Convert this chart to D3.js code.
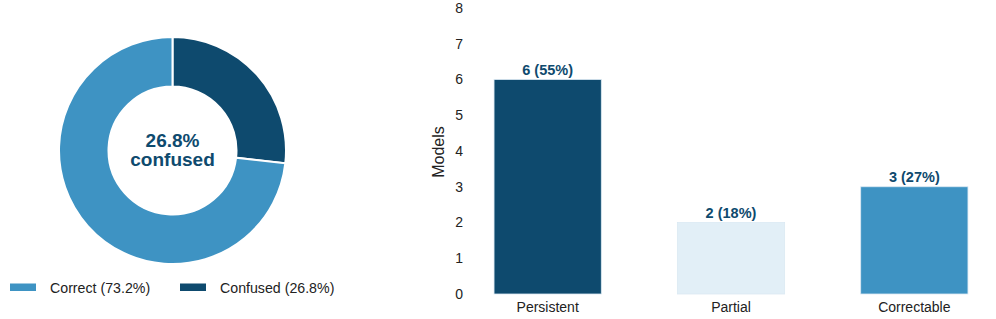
<!DOCTYPE html>
<html><head><meta charset="utf-8">
<script src="https://cdn.jsdelivr.net/npm/d3@7"></script>
<style>body{margin:0;background:#fff}svg{display:block;font-family:"Liberation Sans",Arial,sans-serif}</style>
</head><body>
<svg id="c" width="996" height="319"></svg>
<script>
const pieLabels = ["Confused", "Correct"];
const pieValues = [26.8, 73.2];
const pieColors = ["#0e4a6e", "#3e93c3"];
const legendLabels = ["Correct (73.2%)", "Confused (26.8%)"];
const legendColors = ["#3e93c3", "#0e4a6e"];
const centerText = ["26.8%", "confused"];

const barCategories = ["Persistent", "Partial", "Correctable"];
const barValues = [6, 2, 3];
const barLabels = ["6 (55%)", "2 (18%)", "3 (27%)"];
const barColors = ["#0e4a6e", "#e2eff7", "#3e93c3"];
const yTicks = [0, 1, 2, 3, 4, 5, 6, 7, 8];

const svg = d3.select("#c");
const dark = "#0e4a6e";

// Donut
const cx = 172.5, cy = 150.5, R = 113.5, r = 64;
const pie = d3.pie().sort(null).value(d => d)(pieValues);
const arc = d3.arc().innerRadius(r).outerRadius(R);
const g = svg.append("g").attr("transform", `translate(${cx},${cy})`);
g.selectAll("path").data(pie).join("path")
  .attr("d", arc).attr("fill", (d, i) => pieColors[i])
  .attr("stroke", "#fff").attr("stroke-width", 2);
g.append("text").attr("text-anchor", "middle").attr("y", -3.5)
  .attr("font-size", 19).attr("font-weight", "bold").attr("fill", dark).text(centerText[0]);
g.append("text").attr("text-anchor", "middle").attr("y", 15.5)
  .attr("font-size", 19).attr("font-weight", "bold").attr("fill", dark).text(centerText[1]);

// Legend
const lx = [10, 180];
legendLabels.forEach((t, i) => {
  svg.append("rect").attr("x", lx[i]).attr("y", 283.5).attr("width", 26).attr("height", 7.5).attr("fill", legendColors[i]);
  svg.append("text").attr("x", lx[i] + 40).attr("y", 292.5).attr("font-size", 14.2).attr("fill", "#222").text(t);
});

// Bars
const y = d3.scaleLinear().domain([0, 8]).range([294, 8]);
const x = d3.scaleBand().domain(barCategories).range([456, 1006]).paddingInner(0.415).paddingOuter(0.2075);
const yAxis = svg.append("g").attr("transform", "translate(467,0)")
  .call(d3.axisLeft(y).tickValues(yTicks).tickSize(0).tickPadding(4));
yAxis.select(".domain").remove();
yAxis.selectAll("text").attr("font-size", 14).attr("fill", "#222").attr("font-family", "Liberation Sans, Arial, sans-serif");
const xAxis = svg.append("g").attr("transform", "translate(0,294)")
  .call(d3.axisBottom(x).tickSize(0).tickPadding(8));
xAxis.select(".domain").remove();
xAxis.selectAll("text").attr("font-size", 14).attr("fill", "#222").attr("font-family", "Liberation Sans, Arial, sans-serif");

svg.append("text").attr("transform", "translate(444,152) rotate(-90)")
  .attr("text-anchor", "middle").attr("font-size", 16).attr("fill", "#222").text("Models");

svg.selectAll("rect.bar").data(barValues).join("rect").attr("class", "bar")
  .attr("x", (d, i) => x(barCategories[i])).attr("width", x.bandwidth())
  .attr("y", d => y(d)).attr("height", d => y(0) - y(d))
  .attr("fill", (d, i) => barColors[i]).attr("stroke", "#dbe9f3").attr("stroke-width", 0.8);
svg.selectAll("text.bl").data(barValues).join("text").attr("class", "bl")
  .attr("x", (d, i) => x(barCategories[i]) + x.bandwidth() / 2).attr("y", d => y(d) - 5)
  .attr("text-anchor", "middle").attr("font-size", 14.5).attr("font-weight", "bold").attr("fill", dark)
  .text((d, i) => barLabels[i]);
</script>
</body></html>
